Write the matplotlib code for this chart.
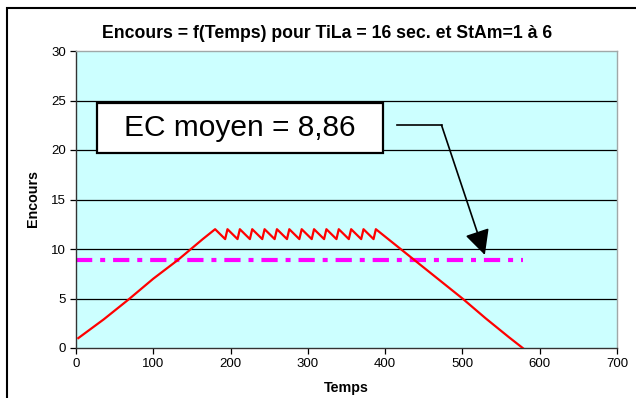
import numpy as np
import matplotlib
matplotlib.use('Agg')
import matplotlib.pyplot as plt
from matplotlib.patches import Rectangle

plt.rcParams['font.family'] = ['Liberation Sans', 'DejaVu Sans']

# montee, plateau en dents de scie, descente
rise_t = [3, 36, 68, 100, 132, 164, 180]
rise_y = [1, 2.9, 4.9, 7.0, 8.9, 11.0, 12.0]
peak_t = [180, 196, 212, 228, 244, 260, 276, 292, 308, 324, 340, 356, 372, 388]
valley_t = [193, 209, 225, 241, 257, 273, 289, 305, 321, 337, 353, 369, 385]
peak_y = 12
valley_y = 11
fall_t = [388, 404, 436, 468, 500, 530, 560, 578]
fall_y = [12, 11, 9, 7, 5, 3, 1.1, 0]

ec_moyen = 8.86
ec_t = [0, 578]

t = list(rise_t[:-1])
y = list(rise_y[:-1])
for i, pt in enumerate(peak_t):
    t.append(pt)
    y.append(peak_y)
    if i < len(valley_t):
        t.append(valley_t[i])
        y.append(valley_y)
t += fall_t[1:]
y += fall_y[1:]

W, H = 636, 398
fig = plt.figure(figsize=(W / 100, H / 100), dpi=100)
ax = fig.add_axes([76 / W, (H - 348) / H, 541 / W, 297 / H])
ax.set_facecolor('#ccffff')

for g in [5, 10, 15, 20, 25]:
    ax.axhline(g, color='black', lw=0.9, zorder=1)

ax.plot(t, y, color='#ff0000', lw=1.6, zorder=3)
l, = ax.plot(ec_t, [ec_moyen, ec_moyen], color='#ff00ff', lw=3, zorder=2,
             solid_capstyle='butt', dash_capstyle='butt')
l.set_dashes((3.9, 1.9, 1.2, 1.9))

ax.set_xlim(0, 700)
ax.set_ylim(0, 30)
ax.set_xticks(range(0, 701, 100))
ax.set_yticks(range(0, 31, 5))
ax.tick_params(direction='out', length=4, width=0.9, labelsize=9.5, pad=3)
for s in ['left', 'bottom']:
    ax.spines[s].set_color('#333333')
    ax.spines[s].set_linewidth(1)
for s in ['top', 'right']:
    ax.spines[s].set_color('#a0a8a8')
    ax.spines[s].set_linewidth(1)

fig.text(327 / W, 1 - 34 / H, 'Encours = f(Temps) pour TiLa = 16 sec. et StAm=1 à 6',
         ha='center', va='center', fontsize=12.7, fontweight='bold')
fig.text(346 / W, 1 - 388 / H, 'Temps', ha='center', va='center',
         fontsize=10.3, fontweight='bold')
fig.text(33 / W, 1 - 198 / H, 'Encours', ha='center', va='center',
         fontsize=10.3, fontweight='bold', rotation=90)

# boite EC moyen
ax.add_patch(Rectangle((27, 19.7), 370, 5.05, fc='white', ec='black', lw=1.6, zorder=5))
ax.text(212, 22.2, 'EC moyen = 8,86', ha='center', va='center', fontsize=21.5,
        zorder=6)

ax.plot([415, 473], [22.5, 22.5], color='black', lw=1.2, zorder=4)
ax.annotate('', xy=(529, 9.4), xytext=(473, 22.5),
            arrowprops=dict(arrowstyle='-|>,head_length=1.1,head_width=0.55',
                            color='black', lw=1.2, mutation_scale=14,
                            shrinkA=0, shrinkB=0), zorder=4)

# cadre du graphique
fig.patches.append(Rectangle((7 / W, -0.2), 1.2, 1.2 - 8 / H, transform=fig.transFigure,
                             fill=False, ec='black', lw=1.5))

fig.savefig('out.png', dpi=100)
